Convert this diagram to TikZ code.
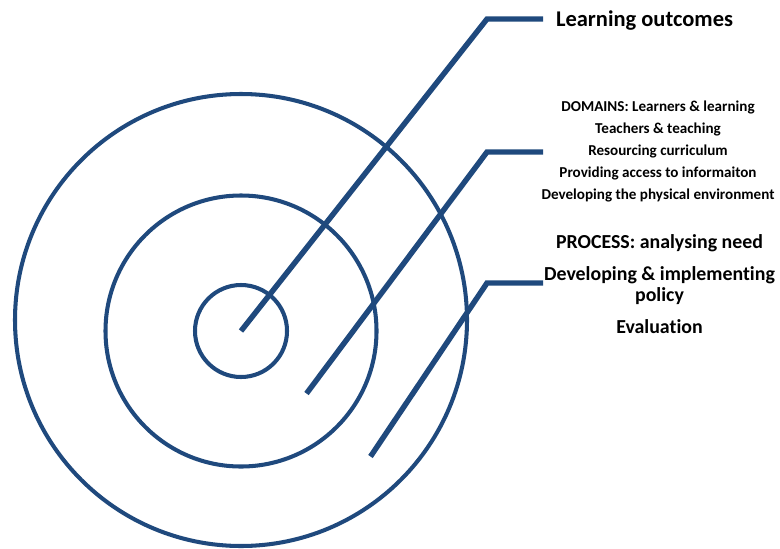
\documentclass[tikz,border=0pt]{standalone}
\usepackage{fontspec}
\setmainfont{Carlito}[Ligatures=NoCommon]
\usepackage{tikz}
\usetikzlibrary{positioning}
\definecolor{bleuCible}{RGB}{31,73,125}

\tikzset{
  ring/.style={circle, draw=bleuCible, line width=2.3pt, inner sep=0pt},
  leader/.style={draw=bleuCible, line width=3.1pt, line join=miter},
}

\begin{document}
\begin{tikzpicture}

\useasboundingbox (0,0) rectangle (15.6,10.96);

% the three rings
\node[ring, minimum size=9.04cm] (outer)  at (4.82,4.56) {};
\node[ring, minimum size=5.42cm] (middle) at (4.82,4.34) {};
\node[ring, minimum size=1.84cm] (inner)  at (4.82,4.34) {};

% bends and ends of the leader lines
\coordinate (tipB)  at (6.13,3.09);
\coordinate (tipC)  at (7.41,1.83);
\coordinate (kneeA) at (9.74,10.58);
\coordinate (endA)  at (10.86,10.58);
\coordinate (kneeB) at (9.74,7.92);
\coordinate (endB)  at (10.86,7.92);
\coordinate (kneeC) at (9.74,5.30);
\coordinate (endC)  at (10.86,5.30);

\draw[leader] (inner.center) -- (kneeA) -- (endA);
\draw[leader] (tipB) -- (kneeB) -- (endB);
\draw[leader] (tipC) -- (kneeC) -- (endC);

% labels
\node[font=\bfseries\fontsize{12.8}{15}\selectfont] (outcomes) at (12.89,10.54) {Learning outcomes};

\node[align=center, font=\bfseries\fontsize{8.6}{12.5}\selectfont] (domains) at (13.16,7.93)
  {DOMAINS: Learners \& learning\\ Teachers \& teaching\\ Resourcing curriculum\\
   Providing access to informaiton\\ Developing the physical environment};

\node[align=center, font=\bfseries\fontsize{11.3}{11.8}\selectfont] (process) at (13.19,5.28)
  {PROCESS: analysing need\\[6.2pt] Developing \& implementing\\ policy\\[6.4pt] Evaluation};

\end{tikzpicture}
\end{document}
